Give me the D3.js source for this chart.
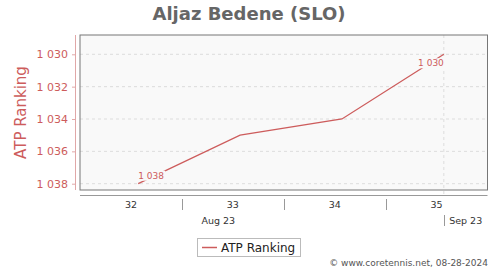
<!DOCTYPE html>
<html>
<head>
<meta charset="utf-8">
<script src="https://cdn.jsdelivr.net/npm/d3@7"></script>
<style>
  body { margin: 0; background: #fff; }
  text { font-family: "DejaVu Sans", sans-serif; }
</style>
</head>
<body>
<svg id="chart" width="500" height="270"></svg>
<script>
// ranking dates (fridays) and values
const dates = ["2023-08-11", "2023-08-18", "2023-08-25", "2023-09-01"]
const ranks = [1038, 1035, 1034, 1030]
const weeks = [32, 33, 34, 35]
const weekStarts = ["2023-08-07", "2023-08-14", "2023-08-21", "2023-08-28", "2023-09-04"]
const months = ["2023-08-01", "2023-09-01", "2023-10-01"]
const yTicks = [1030, 1032, 1034, 1036, 1038]

const red = "#cd5c5c"
const parse = d3.utcParse("%Y-%m-%d")

var svg = d3.select("#chart")

var plot = { left: 80, right: 487.5, top: 35, bottom: 190 }

var x = d3.scaleUtc()
    .domain([parse(weekStarts[0]), parse(weekStarts[weekStarts.length - 1])])
    .range([plot.left, plot.right])

var y = d3.scaleLinear()
    .domain([1030, 1038])
    .range([54.3, 183.7])

var fmt = function (v) {
    let s = String(v)
    return s.length > 3 ? s.slice(0, s.length - 3) + " " + s.slice(-3) : s
}

// title
svg.append("text")
    .text("Aljaz Bedene (SLO)")
    .attr("x", 249)
    .attr("y", 20)
    .style("text-anchor", "middle")
    .style("font-size", "18px")
    .style("font-weight", "bold")
    .style("fill", "#666")

// plot background
svg.append("rect")
    .attr("x", plot.left)
    .attr("y", plot.top)
    .attr("width", plot.right - plot.left)
    .attr("height", plot.bottom - plot.top)
    .style("fill", "#f9f9f9")

// horizontal grid
svg.append("g").selectAll("line")
    .data(yTicks)
    .join("line")
    .attr("x1", plot.left)
    .attr("x2", plot.right)
    .attr("y1", d => y(d))
    .attr("y2", d => y(d))
    .style("stroke", "#ddd")
    .style("stroke-width", 1)
    .style("stroke-dasharray", "3,3")

// month boundary grid
svg.append("g").selectAll("line")
    .data(months.map(parse).filter(d => x(d) > plot.left && x(d) < plot.right))
    .join("line")
    .attr("x1", d => x(d))
    .attr("x2", d => x(d))
    .attr("y1", plot.top)
    .attr("y2", 197)
    .style("stroke", "#ddd")
    .style("stroke-dasharray", "3,3")

// plot border
svg.append("rect")
    .attr("x", plot.left)
    .attr("y", plot.top)
    .attr("width", plot.right - plot.left)
    .attr("height", plot.bottom - plot.top)
    .style("fill", "none")
    .style("stroke", "#777")
    .style("stroke-width", 1)

// y axis
var yAxis = svg.append("g")
    .attr("transform", "translate(75,0)")
    .call(d3.axisLeft(y).tickValues(yTicks).tickFormat(fmt).tickSize(3).tickPadding(4))
yAxis.select(".domain")
    .attr("d", "M0.5," + plot.top + "V" + plot.bottom)
    .style("stroke", "#e0a8a8")
yAxis.selectAll(".tick line").style("stroke", "#e0a8a8")
yAxis.selectAll(".tick text")
    .style("fill", red)
    .style("font-size", "11px")
    .style("font-family", "DejaVu Sans, sans-serif")

svg.append("text")
    .text("ATP Ranking")
    .attr("transform", "translate(26," + ((plot.top + plot.bottom) / 2) + ") rotate(-90)")
    .style("text-anchor", "middle")
    .style("font-size", "15px")
    .style("fill", red)

// x axis
svg.append("line")
    .attr("x1", plot.left)
    .attr("x2", plot.right)
    .attr("y1", 195.5)
    .attr("y2", 195.5)
    .style("stroke", "#999")

var ws = weekStarts.map(parse)
svg.append("g").selectAll("text")
    .data(weeks)
    .join("text")
    .text(d => d)
    .attr("x", (d, i) => (x(ws[i]) + x(ws[i + 1])) / 2)
    .attr("y", 208)
    .style("text-anchor", "middle")
    .style("font-size", "9.5px")
    .style("fill", "#333")

svg.append("g").selectAll("line")
    .data(ws.slice(1, ws.length - 1))
    .join("line")
    .attr("x1", d => Math.round(x(d)) + 0.5)
    .attr("x2", d => Math.round(x(d)) + 0.5)
    .attr("y1", 199)
    .attr("y2", 210)
    .style("stroke", "#999")

var ms = months.map(parse)
svg.append("g").selectAll("text")
    .data(ms.slice(0, 2))
    .join("text")
    .text(d => d3.utcFormat("%b %y")(d))
    .attr("x", (d, i) => (x(d) + Math.min(x(ms[i + 1]), plot.right)) / 2)
    .attr("y", 224)
    .style("text-anchor", "middle")
    .style("font-size", "9.5px")
    .style("fill", "#333")

svg.append("line")
    .attr("x1", Math.round(x(ms[1])) + 0.5)
    .attr("x2", Math.round(x(ms[1])) + 0.5)
    .attr("y1", 215)
    .attr("y2", 226)
    .style("stroke", "#999")

// series line
var pts = dates.map((d, i) => [x(parse(d)), y(ranks[i])])
svg.append("path")
    .attr("d", d3.line()(pts))
    .style("fill", "none")
    .style("stroke", red)
    .style("stroke-width", 1.3)

// first and last labels, with a box that cuts the line
var addLabel = function (i, dy, anchor) {
    let g = svg.append("g")
    let bg = g.append("rect")
    let t = g.append("text")
        .text(fmt(ranks[i]))
        .attr("x", pts[i][0])
        .attr("y", pts[i][1] + dy)
        .style("text-anchor", anchor)
        .style("font-size", "9px")
        .style("fill", red)
    let bb = t.node().getBBox()
    bg.attr("x", bb.x - 1)
        .attr("y", bb.y)
        .attr("width", bb.width + 2)
        .attr("height", bb.height)
        .style("fill", "#f9f9f9")
}
addLabel(0, -5, "start")
addLabel(ranks.length - 1, 12, "end")

// legend
var lg = svg.append("g")
lg.append("rect")
    .attr("x", 197.5)
    .attr("y", 238.5)
    .attr("width", 103)
    .attr("height", 18)
    .style("fill", "#fff")
    .style("stroke", "#bbb")
lg.append("line")
    .attr("x1", 202)
    .attr("x2", 217)
    .attr("y1", 247.5)
    .attr("y2", 247.5)
    .style("stroke", red)
    .style("stroke-width", 1.5)
lg.append("text")
    .text("ATP Ranking")
    .attr("x", 221)
    .attr("y", 252)
    .style("font-size", "12px")
    .style("fill", "#222")

// footer
svg.append("text")
    .text("© www.coretennis.net, 08-28-2024")
    .attr("x", 488)
    .attr("y", 266)
    .style("text-anchor", "end")
    .style("font-size", "9px")
    .style("fill", "#555")
</script>
</body>
</html>
